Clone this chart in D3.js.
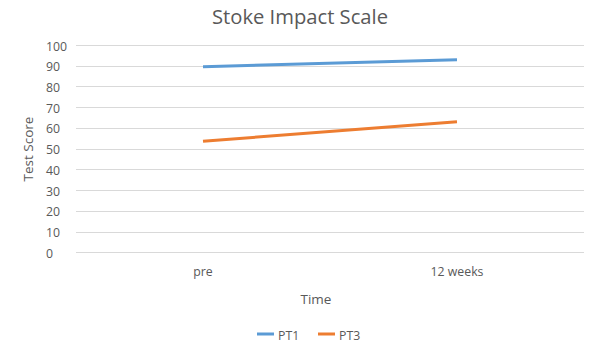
<!DOCTYPE html>
<html><head><meta charset="utf-8">
<script src="https://cdn.jsdelivr.net/npm/d3@7"></script>
<style>body{margin:0;background:#fff}svg{display:block}text{font-family:"Open Sans","Liberation Sans",sans-serif;fill:#595959}</style>
</head><body><svg id="c" width="600" height="360"></svg>
<script>
const categories = ["pre", "12 weeks"];
const seriesNames = ["PT1", "PT3"];
const pt1 = [89.5, 92.9];
const pt3 = [53.6, 63.0];
const yTicks = [0,10,20,30,40,50,60,70,80,90,100];
const colors = ["#5b9bd5", "#ed7d31"];

(function () {
const svg = d3.select("#c");
const mLeft = 76, mRight = 584, mTop = 45, mBottom = 252.4;
const x = d3.scaleBand().domain(categories).range([mLeft, mRight]);
const y = d3.scaleLinear().domain([0, 100]).range([mBottom, mTop]);

svg.append("text").attr("x", 300).attr("y", 24).attr("text-anchor", "middle")
  .style("font-size", "20.2px").text("Stoke Impact Scale");

svg.append("g").selectAll("line").data(yTicks).join("line")
  .attr("x1", mLeft).attr("x2", mRight)
  .attr("y1", d => Math.round(y(d)) + 0.5).attr("y2", d => Math.round(y(d)) + 0.5)
  .attr("stroke", "#d9d9d9").attr("stroke-width", 1);

svg.append("g").selectAll("text").data(yTicks).join("text")
  .attr("x", 46).attr("y", d => y(d) + 5.5).attr("text-anchor", "start")
  .style("font-size", "12.3px").text(d => d);

svg.append("g").selectAll("text").data(categories).join("text")
  .attr("x", d => x(d) + x.bandwidth() / 2).attr("y", 276).attr("text-anchor", "middle")
  .style("font-size", "12.3px").text(d => d);

svg.append("text").attr("transform", "translate(33,149) rotate(-90)").attr("text-anchor", "middle")
  .style("font-size", "13.5px").text("Test Score");
svg.append("text").attr("x", 316).attr("y", 303.5).attr("text-anchor", "middle")
  .style("font-size", "13.5px").text("Time");

const line = d3.line().x((d, i) => x(categories[i]) + x.bandwidth() / 2).y(d => y(d));
[pt1, pt3].forEach((s, i) => {
  svg.append("path").datum(s).attr("d", line).attr("fill", "none")
    .attr("stroke", colors[i]).attr("stroke-width", 3).attr("stroke-linecap", "butt");
});

const legX = [257, 318];
seriesNames.forEach((n, i) => {
  svg.append("line").attr("x1", legX[i]).attr("x2", legX[i] + 17).attr("y1", 334).attr("y2", 334)
    .attr("stroke", colors[i]).attr("stroke-width", 3);
  svg.append("text").attr("x", legX[i] + 21).attr("y", 340).style("font-size", "12.3px").text(n);
});
})();
</script></body></html>
